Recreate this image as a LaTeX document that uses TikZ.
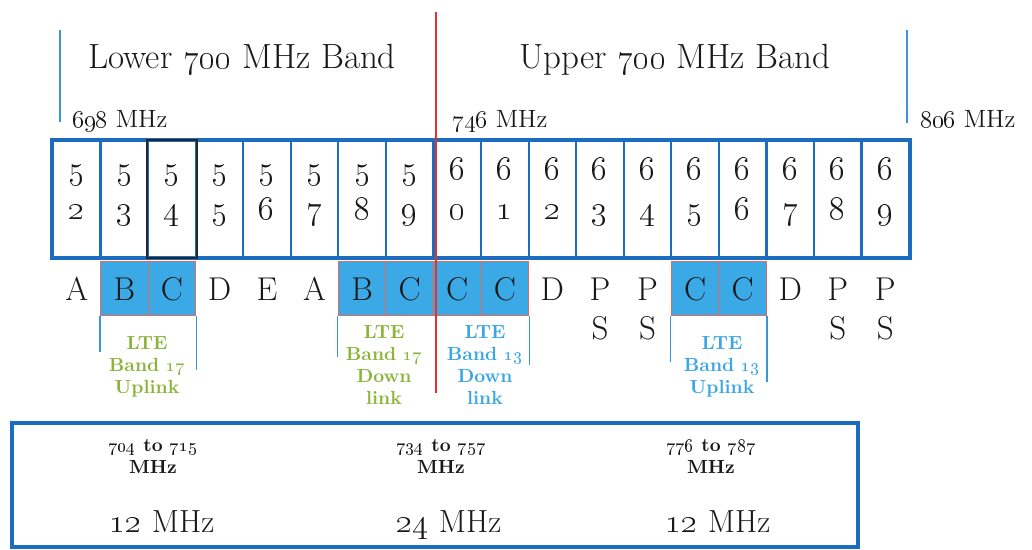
\documentclass[tikz,border=0pt]{standalone}
\usetikzlibrary{positioning,calc}
\definecolor{bandblue}{HTML}{1C6CC0}
\definecolor{tickblue}{HTML}{3B95DC}
\definecolor{ltefill}{HTML}{3AA9E6}
\definecolor{lteedge}{HTML}{E26A5A}
\definecolor{ltegreen}{HTML}{8BB43A}
\definecolor{lteblue}{HTML}{3AA6E4}
\definecolor{divred}{HTML}{E5302C}
\newcommand{\osn}[1]{\oldstylenums{#1}}

\begin{document}
\begin{tikzpicture}[x=0.5pt,y=-0.5pt,
  text=black!90,
  title/.style={anchor=base,inner sep=0pt,font=\fontsize{17.5}{20}\selectfont},
  freq/.style={anchor=base west,inner sep=0pt,font=\fontsize{12.5}{14}\selectfont},
  cell/.style={draw=bandblue,line width=1.1pt,minimum width=23.78pt,minimum height=58pt,inner sep=0pt},
  digit/.style={anchor=base,inner sep=0pt,font=\fontsize{17}{20}\selectfont},
  lteband/.style={draw=lteedge,line width=.5pt,fill=ltefill,minimum width=23.78pt,
    minimum height=27pt,inner sep=0pt},
  letter/.style={anchor=base,inner sep=0pt,font=\fontsize{16.5}{18}\selectfont},
  tick/.style={tickblue,line width=.6pt},
  ltelabel/.style={align=center,inner sep=0pt,font=\bfseries\fontsize{9.5}{11}\selectfont},
  mhzrange/.style={align=center,inner sep=0pt,font=\bfseries\fontsize{9.5}{11}\selectfont},
  mhzwidth/.style={anchor=base,inner sep=0pt,font=\fontsize{16}{18}\selectfont}]
  \useasboundingbox (0,0) rectangle (1032,550);

  % band titles and edges
  \node[title] (lower) at (242,69) {Lower \osn{700} MHz Band};
  \node[title] (upper) at (675,69) {Upper \osn{700} MHz Band};
  \coordinate (lowtop) at (60,30);
  \coordinate (uptop) at (907,30);
  \draw[tick] (lowtop) -- ++(0,92);
  \draw[tick] (uptop) -- ++(0,93);
  \node[freq] (f698) at (72,128) {\osn{698} MHz};
  \node[freq] (f746) at (452,128) {\osn{746} MHz};
  \node[freq] (f806) at (920,128) {\osn{806} MHz};

  % channels 52..69
  \foreach \n in {52,...,69}{
    \pgfmathtruncatemacro\tens{\n/10}
    \pgfmathtruncatemacro\units{mod(\n,10)}
    \node[cell] (c\n) at ({53+47.56*(\n-51.5)},199) {};
    \node[digit] (t\n) at ({53+47.56*(\n-51.5)},180) {\osn{\tens}};
    \node[digit] (u\n) at ({53+47.56*(\n-51.5)},220) {\osn{\units}};
  }
  \draw[bandblue,line width=1.6pt] (c52.north west) rectangle (c69.south east);
  \draw[black!85,line width=1.2pt] (c54.north west) rectangle (c54.south east);

  % blocks
  \foreach \n in {53,54,58,59,60,61,65,66}
    \node[lteband] (b\n) at ({53+47.56*(\n-51.5)},289) {};
  \foreach \n/\ltr in {52/A,53/B,54/C,55/D,56/E,57/A,58/B,59/C,60/C,61/C,
                       62/D,63/P,64/P,65/C,66/C,67/D,68/P,69/P}
    \node[letter] (l\n) at ({53+47.56*(\n-51.5)},300) {\ltr};
  \foreach \n in {63,64,68,69}
    \node[letter] (s\n) at ({53+47.56*(\n-51.5)},340) {S};

  % LTE ranges
  \draw[tick] (b53.south west) -- ++(0,35);
  \draw[tick] (b54.south east) -- ++(0,53);
  \draw[tick] (b58.south west) -- ++(0,40);
  \draw[tick] (b61.south east) -- ++(0,48);
  \draw[tick] (b65.south west) -- ++(0,45);
  \draw[tick] (b66.south east) -- ++(0,65);
  \node[ltelabel,text=ltegreen] (up17) at (147,367) {LTE\\Band \osn{17}\\Uplink};
  \node[ltelabel,text=ltegreen] (dn17) at (384,365) {LTE\\Band \osn{17}\\Down\\link};
  \node[ltelabel,text=lteblue] (dn13) at (485,365) {LTE\\Band \osn{13}\\Down\\link};
  \node[ltelabel,text=lteblue] (up13) at (722,367) {LTE\\Band \osn{13}\\Uplink};

  % divider lower/upper
  \coordinate (divtop) at (436,12);
  \coordinate (divbot) at (436,393);
  \draw[divred,line width=1.2pt] (divtop) -- (divbot);

  % summary
  \node[draw=bandblue,line width=1.6pt,minimum width=423pt,minimum height=62pt,inner sep=0pt]
    (summary) at (435,485) {};
  \node[mhzrange] (r17) at (153,456) {\osn{704} to \osn{715}\\MHz};
  \node[mhzrange] (r13d) at (441,456) {\osn{734} to \osn{757}\\MHz};
  \node[mhzrange] (r13u) at (711,456) {\osn{776} to \osn{787}\\MHz};
  \node[mhzwidth] (w17) at (162,532) {\osn{12} MHz};
  \node[mhzwidth] (w13d) at (449,532) {\osn{24} MHz};
  \node[mhzwidth] (w13u) at (718,532) {\osn{12} MHz};
\end{tikzpicture}
\end{document}
